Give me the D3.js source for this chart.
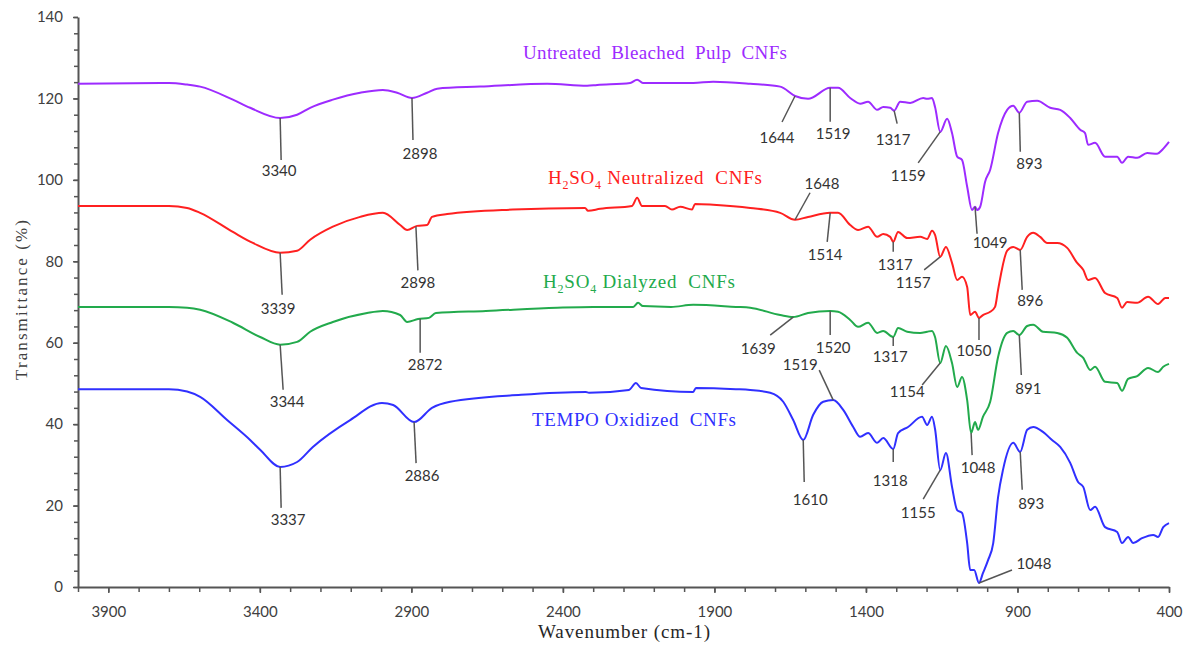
<!DOCTYPE html>
<html>
<head>
<meta charset="utf-8">
<script src="https://cdnjs.cloudflare.com/ajax/libs/d3/7.8.5/d3.min.js"></script>
<style>
  body { margin: 0; background: #fff; }
  svg { display: block; }
</style>
</head>
<body>
<div id="chart"></div>
<script>
// [wavenumber cm-1, transmittance %]
const untreated = [
  [4000,123.6],[3700,123.8],[3640,123.4],[3597,122.9],[3489,119.7],[3432,117.7],[3333,115.2],[3277,116.0],[3234,117.7],
  [3159,119.7],[3069,121.4],[2994,122.1],[2947,121.4],[2898,120.1],[2848,121.4],[2815,122.4],[2673,122.9],
  [2452,123.6],[2320,123.1],[2287,123.3],[2178,123.8],[2155,124.6],[2136,123.8],[1970,123.8],[1904,124.1],
  [1782,123.6],[1683,122.9],[1634,120.6],[1591,119.9],[1518,122.6],[1492,122.6],[1452,120.1],[1419,118.7],
  [1393,119.2],[1363,117.2],[1343,117.9],[1320,117.7],[1307,117.0],[1287,119.2],[1254,118.9],[1211,120.1],
  [1198,119.9],[1182,120.1],[1172,117.9],[1155,111.8],[1132,115.0],[1116,111.5],[1099,105.7],[1083,104.9],
  [1066,98.3],[1050,92.6],[1040,93.4],[1033,92.6],[1023,93.4],[1007,99.5],[990,102.5],[964,111.5],
  [934,117.2],[914,118.2],[894,116.5],[868,119.2],[835,119.4],[792,117.7],[759,117.2],[726,115.2],
  [693,112.3],[677,111.5],[667,108.6],[644,109.1],[611,105.7],[571,105.7],[555,104.2],[535,105.7],
  [505,105.4],[472,106.6],[439,106.4],[422,107.4],[400,109.3]
];
const neutralized = [
  [4000,93.6],[3700,93.6],[3640,93.1],[3597,91.9],[3489,87.2],[3423,84.5],[3333,82.1],[3277,82.6],[3234,85.3],
  [3159,88.5],[3069,90.9],[2994,91.9],[2937,88.9],[2914,87.7],[2881,88.7],[2848,88.9],[2832,90.9],
  [2782,91.6],[2565,92.7],[2327,93.1],[2317,92.4],[2277,92.9],[2172,93.6],[2155,95.6],[2139,93.6],
  [2063,93.6],[2040,92.7],[2013,93.4],[1974,92.7],[1964,94.1],[1904,93.9],[1782,93.1],[1683,91.9],
  [1634,90.2],[1591,90.9],[1518,91.9],[1492,91.9],[1452,88.9],[1426,87.7],[1393,88.5],[1363,86.0],
  [1343,86.7],[1320,86.0],[1310,84.8],[1294,87.2],[1264,85.7],[1221,86.0],[1198,85.5],[1182,87.5],
  [1172,86.5],[1155,81.1],[1136,83.5],[1116,79.6],[1099,75.4],[1083,76.2],[1066,73.7],[1056,66.8],
  [1040,67.6],[1027,66.1],[1014,66.8],[990,67.6],[974,68.8],[964,73.0],[934,82.6],[914,83.5],
  [891,82.8],[868,86.0],[848,87.0],[825,86.0],[802,84.5],[769,84.5],[736,83.3],[703,79.6],
  [683,77.9],[667,75.4],[644,75.9],[611,72.2],[571,71.0],[555,68.6],[538,70.0],[505,69.8],
  [469,71.3],[436,69.5],[412,71.0],[400,71.0]
];
const dialyzed = [
  [4000,68.8],[3700,68.8],[3640,68.6],[3597,68.1],[3489,64.9],[3399,61.4],[3333,59.5],[3277,60.2],[3234,62.7],
  [3159,65.1],[3046,67.3],[2994,67.8],[2937,66.8],[2914,65.1],[2878,65.8],[2842,66.1],[2819,67.3],
  [2654,67.8],[2419,68.6],[2300,68.8],[2168,68.8],[2152,69.8],[2136,69.0],[2043,68.8],[1970,69.3],
  [1829,68.8],[1782,68.6],[1683,66.8],[1640,66.3],[1591,67.3],[1518,67.8],[1492,67.6],[1452,65.6],
  [1426,63.9],[1393,64.9],[1363,62.4],[1343,62.9],[1310,61.4],[1294,63.6],[1264,62.7],[1221,62.4],
  [1198,62.7],[1182,62.9],[1172,61.4],[1155,55.0],[1136,59.2],[1116,55.0],[1099,49.1],[1083,51.6],
  [1066,45.9],[1053,37.8],[1040,40.5],[1030,38.6],[1014,41.8],[990,45.5],[964,56.5],[934,62.4],
  [914,62.9],[894,61.9],[868,64.1],[848,64.4],[816,62.7],[769,62.4],[736,61.2],[703,57.5],
  [683,56.3],[660,53.3],[644,54.1],[611,50.4],[571,50.1],[555,48.2],[535,51.1],[505,51.8],
  [469,53.8],[436,52.8],[419,54.1],[400,54.8]
];
const tempo = [
  [4000,48.6],[3700,48.6],[3640,48.0],[3597,46.7],[3508,41.0],[3432,36.1],[3399,33.7],[3333,29.5],[3277,30.7],
  [3225,34.4],[3102,41.0],[2997,45.2],[2960,44.7],[2891,40.5],[2832,44.0],[2772,45.5],[2538,47.2],
  [2324,47.9],[2314,47.7],[2182,48.4],[2159,50.1],[2142,48.9],[1970,47.9],[1961,48.9],[1829,48.6],
  [1782,48.4],[1716,47.7],[1673,45.5],[1640,41.0],[1607,36.1],[1574,42.3],[1541,45.5],[1508,45.9],
  [1475,43.5],[1442,39.3],[1419,36.9],[1393,37.8],[1363,35.4],[1343,36.6],[1310,33.9],[1294,37.8],
  [1261,39.3],[1215,41.8],[1198,39.8],[1182,41.8],[1172,38.8],[1155,28.7],[1136,32.9],[1116,24.6],
  [1099,18.9],[1083,18.2],[1066,10.8],[1056,4.2],[1043,4.2],[1027,1.0],[1014,3.4],[997,6.6],
  [980,10.8],[964,22.1],[948,28.7],[914,35.4],[891,33.2],[868,38.6],[848,39.3],[816,38.1],
  [786,36.1],[759,34.4],[726,30.5],[700,25.8],[683,24.6],[660,18.9],[644,19.7],[611,14.7],
  [571,13.5],[555,10.8],[535,12.3],[518,10.8],[489,12.0],[452,12.8],[436,12.3],[419,14.7],[400,15.7]
];

const seriesData = [untreated, neutralized, dialyzed, tempo];
// name pieces: [text, isSubscript]
const seriesNames = [
  [['Untreated  Bleached  Pulp  CNFs', false]],
  [['H', false], ['2', true], ['SO', false], ['4', true], [' Neutralized  CNFs', false]],
  [['H', false], ['2', true], ['SO', false], ['4', true], [' Dialyzed  CNFs', false]],
  [['TEMPO Oxidized  CNFs', false]]
];
const seriesColors = ['#9d2bff', '#ff2020', '#22aa4c', '#3030ff'];

const xTicks = [3900, 3400, 2900, 2400, 1900, 1400, 900, 400];
const yTicks = [0, 20, 40, 60, 80, 100, 120, 140];

// peak labels: [series, text, wavenumber of the marked point]
const peaks = [
  [0,'3340',3333],[0,'2898',2898],[0,'1644',1634],[0,'1519',1518],[0,'1317',1307],[0,'1159',1155],[0,'1049',1040],[0,'893',894],
  [1,'3339',3333],[1,'2898',2885],[1,'1648',1634],[1,'1514',1518],[1,'1317',1310],[1,'1157',1155],[1,'1050',1027],[1,'896',891],
  [2,'3344',3333],[2,'2872',2871],[2,'1639',1640],[2,'1520',1518],[2,'1317',1310],[2,'1154',1155],[2,'1048',1053],[2,'891',894],
  [3,'3337',3333],[3,'2886',2891],[3,'1610',1607],[3,'1519',1508],[3,'1318',1310],[3,'1155',1155],[3,'1048',1027],[3,'893',891]
];
// leader end and label centre, in px relative to the marked point
const peakLayout = [
  [1,42,-1,52],[1,42,8,55],[-13,26,-18,41],[0,34,3,45],[3,13,-1,28],[-22,31,-32,43],[2,27,15,35],[1,39,10,50],
  [2,42,-2,55],[2,44,2,56],[15,-27,27,-37],[-3,29,-5,41],[0,10,2,22],[-16,13,-27,25],[0,22,-5,32],[2,40,10,50],
  [3,45,7,56],[0,34,5,45],[-23,18,-35,31],[0,24,3,36],[0,9,-3,19],[-18,22,-33,28],[1,22,7,34],[2,40,9,53],
  [1,41,8,52],[2,41,8,53],[1,42,7,59],[-14,-30,-33,-36],[0,13,-3,31],[-17,29,-22,42],[33,-13,55,-20],[2,38,11,51]
];
// series name placement: [x, baseline y, width]
const nameLayout = [[523, 59, 264], [548, 184, 214], [543, 288, 192], [532, 426, 204]];

const width = 1192, height = 647;
const plot = { left: 78, right: 1169, top: 17, bottom: 587 };

const svg = d3.select('#chart').append('svg')
  .attr('width', width)
  .attr('height', height);

const x = d3.scaleLinear().domain([4000, 400]).range([plot.left, plot.right]);
const y = d3.scaleLinear().domain([0, 140]).range([plot.bottom, plot.top]);

const tickFont = 'Lato, "Open Sans", sans-serif';
const serifFont = '"Liberation Serif", "DejaVu Serif", serif';

// minor ticks first, major axes drawn on top
svg.append('g')
  .attr('transform', `translate(0,${plot.bottom})`)
  .call(d3.axisBottom(x).tickValues(d3.range(4000, 399, -100)).tickSize(5).tickSizeOuter(0).tickFormat(''))
  .call(g => g.select('.domain').remove());
svg.append('g')
  .attr('transform', `translate(${plot.left},0)`)
  .call(d3.axisLeft(y).tickValues(d3.range(0, 141, 4)).tickSize(4).tickSizeOuter(0).tickFormat(''))
  .call(g => g.select('.domain').remove());

svg.append('g')
  .attr('transform', `translate(0,${plot.bottom})`)
  .call(d3.axisBottom(x).tickValues(xTicks).tickSize(6).tickSizeOuter(0).tickPadding(13).tickFormat(d3.format('d')));
svg.append('g')
  .attr('transform', `translate(${plot.left},0)`)
  .call(d3.axisLeft(y).tickValues(yTicks).tickSize(5).tickSizeOuter(0).tickPadding(10));

svg.selectAll('.tick line').attr('stroke', '#555').attr('stroke-width', 1.5);
svg.selectAll('.domain').attr('stroke', '#555').attr('stroke-width', 2);
svg.selectAll('.tick text')
  .attr('fill', '#404040')
  .style('font-family', tickFont)
  .style('font-size', '15px');

// axis titles
svg.append('text')
  .attr('transform', 'translate(27,300) rotate(-90)')
  .attr('text-anchor', 'middle')
  .attr('textLength', 160)
  .attr('fill', '#404040')
  .style('font-family', serifFont)
  .style('font-size', '17px')
  .text('Transmittance  (%)');

svg.append('text')
  .attr('x', 624)
  .attr('y', 638)
  .attr('text-anchor', 'middle')
  .attr('textLength', 172)
  .attr('fill', '#262626')
  .style('font-family', serifFont)
  .style('font-size', '19px')
  .text('Wavenumber  (cm-1)');

// spectra
const line = d3.line()
  .x(d => x(d[0]))
  .y(d => y(d[1]))
  .curve(d3.curveMonotoneX);

svg.append('g').selectAll('path')
  .data(seriesData)
  .join('path')
  .attr('d', line)
  .attr('fill', 'none')
  .attr('stroke', (d, i) => seriesColors[i])
  .attr('stroke-width', 2)
  .attr('stroke-linejoin', 'round');

// value of a series at a wavenumber (data runs high to low)
function valueAt(data, wn) {
  for (let i = 0; i < data.length - 1; i++) {
    const a = data[i], b = data[i + 1];
    if (wn <= a[0] && wn >= b[0]) {
      const t = (a[0] - wn) / (a[0] - b[0]);
      return a[1] + t * (b[1] - a[1]);
    }
  }
  return data[data.length - 1][1];
}

// peak leaders and labels
const peakG = svg.append('g');
peaks.forEach((p, i) => {
  const [s, label, wn] = p;
  const [lx, ly, tx, ty] = peakLayout[i];
  const px = x(wn), py = y(valueAt(seriesData[s], wn));
  peakG.append('line')
    .attr('x1', px).attr('y1', py)
    .attr('x2', px + lx).attr('y2', py + ly)
    .attr('stroke', '#555')
    .attr('stroke-width', 1.5);
  peakG.append('text')
    .attr('x', px + tx)
    .attr('y', py + ty)
    .attr('text-anchor', 'middle')
    .attr('dominant-baseline', 'central')
    .attr('fill', '#333')
    .style('font-family', tickFont)
    .style('font-size', '15px')
    .text(label);
});

// series names
seriesNames.forEach((parts, i) => {
  const [nx, ny, w] = nameLayout[i];
  const t = svg.append('text')
    .attr('x', nx)
    .attr('y', ny)
    .attr('textLength', w)
    .attr('lengthAdjust', 'spacing')
    .attr('fill', seriesColors[i])
    .style('font-family', serifFont)
    .style('font-size', '19px')
    .style('white-space', 'pre');
  let sub = false;
  parts.forEach(([txt, isSub]) => {
    const shift = isSub === sub ? 0 : (isSub ? 5 : -5);
    t.append('tspan')
      .attr('dy', shift)
      .style('font-size', isSub ? '12px' : '19px')
      .text(txt);
    sub = isSub;
  });
});
</script>
</body>
</html>
